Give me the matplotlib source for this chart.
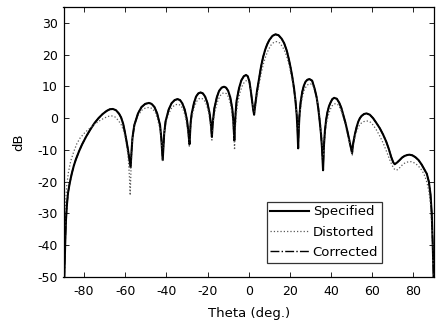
import matplotlib
matplotlib.use("Agg")
import matplotlib.pyplot as plt

# values (theta in deg, level in dB)
spec_theta = [
    -90.0, -89.6, -89.2, -88.8, -88.3, -87.8, -87.0, -86.0, -85.0, -84.0,
    -82.5, -81.0, -79.0, -77.0, -75.0, -73.0, -71.0, -69.0, -67.5, -66.0,
    -64.5, -63.0, -62.0, -61.0, -60.3, -59.5, -58.7, -58.0, -57.4,
    -56.95, -56.5, -55.6, -53.8, -52.1, -50.3, -48.5, -47.2, -45.8, -44.5,
    -43.1, -42.5, -42.15, -41.8,
    -41.45, -41.1, -40.4, -38.9, -37.5, -36.0, -34.6, -33.4, -32.3, -31.1,
    -30.0, -29.4, -28.8,
    -28.5, -28.2, -27.7, -26.6, -25.6, -24.5, -23.4, -22.3, -21.2, -20.1,
    -19.0, -18.45, -17.9,
    -17.6, -17.3, -16.7, -15.5, -14.4, -13.2, -12.0, -11.0, -10.0, -9.0,
    -8.0, -7.5, -7.0,
    -6.7, -6.4, -5.9, -4.7, -3.6, -2.4, -1.3, -0.5, 0.3, 1.0,
    1.6, 2.1, 2.6,
    3.2, 4.0, 5.0, 6.0, 7.0, 8.0, 9.0, 10.0, 11.5, 13.0,
    14.5, 16.0, 17.2, 18.5, 19.5, 20.4, 21.2, 22.0, 22.7, 23.3,
    23.7, 24.0,
    24.3, 24.6, 25.2, 26.0, 26.8, 27.6, 28.5, 29.5, 30.8, 32.0,
    33.0, 33.8, 34.5, 35.1, 35.6, 36.1,
    36.5, 37.0, 37.6, 38.2, 39.0, 39.8, 40.6, 41.5, 42.8, 44.0,
    45.0, 46.0, 47.0, 48.0, 48.8, 49.5, 50.2,
    50.6, 51.0, 51.6, 52.4, 53.2, 54.0, 54.8, 56.0, 57.2, 58.8,
    60.4, 62.0, 63.7, 65.3, 66.8, 68.0, 69.2, 70.2, 70.9,
    72.0, 73.3, 74.5, 75.7, 77.0, 78.1, 79.5, 81.0, 82.5, 84.0,
    85.2, 86.5, 87.5, 88.3, 88.9, 89.4, 89.8, 90.0,
]
spec_db = [
    -60.0, -50.0, -40.0, -32.0, -27.0, -23.5, -20.5, -17.5, -15.0, -13.0,
    -10.5, -8.3, -5.8, -3.6, -1.6, 0.0, 1.3, 2.3, 2.8, 2.9,
    2.5, 1.4, 0.2, -1.8, -4.0, -6.8, -9.8, -12.8, -15.5,
    -10.5, -6.2, -2.2, 1.5, 3.5, 4.5, 4.8, 4.5, 3.5, 1.5,
    -2.2, -6.2, -9.5, -13.2,
    -9.0, -5.0, -1.0, 2.7, 4.7, 5.7, 6.0, 5.7, 4.7, 2.7,
    -0.6, -4.0, -8.2,
    -4.5, -1.2, 1.5, 4.8, 6.8, 7.8, 8.1, 7.8, 6.8, 4.8,
    1.5, -1.5, -5.9,
    -2.5, -0.3, 3.1, 6.6, 8.6, 9.6, 9.9, 9.6, 8.6, 6.6,
    3.0, -0.8, -7.0,
    -2.0, 1.5, 5.5, 9.5, 11.9, 13.2, 13.6, 13.2, 11.6, 8.6,
    5.6, 3.0, 1.1,
    4.5, 8.5, 12.5, 16.3, 19.3, 21.6, 23.3, 24.6, 25.9, 26.4,
    26.1, 25.0, 23.6, 21.2, 18.5, 15.7, 12.8, 9.4, 5.5, 1.0,
    -4.0, -9.5,
    -3.5, 0.5, 5.0, 8.3, 10.3, 11.5, 12.1, 12.3, 11.8, 9.3,
    6.5, 3.0, -1.1, -5.0, -9.5, -16.4,
    -9.0, -4.0, -0.5, 1.8, 3.8, 5.0, 6.0, 6.4, 6.1, 4.8,
    3.2, 0.8, -1.5, -4.3, -6.8, -8.9, -11.0,
    -8.5, -7.0, -5.0, -2.8, -1.1, 0.0, 0.7, 1.3, 1.5, 1.1,
    0.0, -1.5, -3.2, -5.2, -7.4, -9.6, -12.2, -13.9, -14.5,
    -14.0, -13.2, -12.4, -11.9, -11.6, -11.5, -11.7, -12.3, -13.2, -14.6,
    -16.0, -17.5, -20.0, -24.0, -30.0, -40.0, -50.0, -60.0,
]

dist_theta = [
    -90.0, -89.7, -89.4, -89.0, -88.4, -87.6, -86.5, -85.0, -83.5, -82.0,
    -80.0, -78.0, -76.0, -74.0, -72.0, -70.0, -68.0, -66.5, -65.0, -63.5,
    -62.0, -61.0, -60.0, -59.2, -58.5, -58.0, -57.6,
    -57.2, -56.8, -56.2, -55.2, -53.6, -52.0, -50.2, -48.3, -46.8, -45.4,
    -44.2, -43.0, -42.4, -41.9,
    -41.5, -41.0, -40.2, -38.8, -37.3, -35.8, -34.4, -33.2, -32.0, -30.9,
    -29.9, -29.3, -28.9,
    -28.5, -28.1, -27.5, -26.4, -25.3, -24.2, -23.2, -22.1, -21.0, -19.9,
    -18.9, -18.4, -17.9,
    -17.5, -17.1, -16.5, -15.3, -14.1, -12.9, -11.8, -10.8, -9.8, -8.9,
    -8.0, -7.5, -7.1, -6.9,
    -6.6, -6.2, -5.6, -4.5, -3.3, -2.1, -1.0, -0.2, 0.6, 1.3,
    1.9, 2.3, 2.7,
    3.3, 4.1, 5.1, 6.1, 7.2, 8.3, 9.5, 10.8, 12.2, 13.6,
    15.0, 16.4, 17.7, 18.9, 19.9, 20.8, 21.7, 22.5, 23.2, 23.8,
    24.3,
    24.7, 25.3, 26.1, 27.0, 28.0, 29.0, 30.0, 31.2, 32.3, 33.3,
    34.1, 34.8, 35.4, 35.9, 36.2,
    36.6, 37.1, 37.8, 38.6, 39.5, 40.4, 41.3, 42.3, 43.4, 44.5,
    45.6, 46.7, 47.7, 48.6, 49.5, 50.3,
    50.7, 51.2, 51.9, 52.7, 53.6, 54.6, 55.8, 57.0, 58.0, 59.2,
    60.6, 62.2, 63.8, 65.4, 66.9, 68.3, 69.6, 70.7, 71.7,
    72.8, 74.0, 75.3, 76.6, 77.8, 78.9, 80.2, 81.6, 83.0, 84.3,
    85.5, 86.6, 87.5, 88.3, 88.9, 89.4, 89.8, 90.0,
]
dist_db = [
    -60.0, -45.0, -35.0, -27.0, -21.0, -17.0, -13.5, -10.5, -8.0, -6.3,
    -4.8, -3.6, -2.5, -1.5, -0.6, 0.1, 0.6, 0.7, 0.4, -0.6,
    -2.0, -3.6, -6.0, -9.0, -13.0, -18.0, -24.3,
    -16.0, -9.5, -5.0, -1.6, 1.0, 2.5, 3.2, 3.4, 3.0, 1.8,
    -0.5, -3.8, -7.5, -13.5,
    -8.0, -4.5, -1.2, 1.6, 3.4, 4.2, 4.4, 4.1, 3.0, 0.8,
    -2.8, -5.8, -8.8,
    -4.5, -1.5, 0.8, 3.6, 5.3, 6.1, 6.3, 6.0, 5.0, 3.0,
    -0.5, -3.0, -6.9,
    -3.0, -0.5, 2.0, 5.0, 6.9, 7.8, 8.0, 7.7, 6.6, 4.5,
    1.0, -3.0, -7.0, -10.0,
    -4.0, 0.0, 3.8, 7.6, 10.0, 11.4, 11.9, 11.6, 10.2, 7.6,
    4.8, 2.8, 1.5,
    3.8, 7.3, 11.0, 14.3, 17.3, 19.6, 21.5, 23.0, 23.9, 24.1,
    23.7, 22.5, 20.8, 18.5, 15.8, 13.0, 9.8, 6.2, 2.5, -1.0,
    -3.5,
    0.5, 3.8, 6.8, 8.9, 10.1, 10.7, 10.8, 10.3, 8.3, 5.5,
    2.3, -1.5, -5.5, -9.5, -13.0,
    -8.0, -4.5, -1.5, 0.8, 2.6, 3.8, 4.4, 4.6, 4.2, 3.0,
    1.0, -1.5, -4.3, -7.0, -9.5, -11.6,
    -9.0, -7.2, -5.2, -3.6, -2.4, -1.6, -1.1, -0.9, -0.9, -1.3,
    -2.3, -3.9, -5.8, -8.0, -10.4, -12.8, -14.8, -16.0, -16.4,
    -16.0, -15.1, -14.3, -13.9, -13.7, -13.7, -14.0, -14.6, -15.5, -16.6,
    -18.2, -20.3, -23.0, -27.0, -33.0, -42.0, -52.0, -60.0,
]

# corrected pattern sits on top of the specified one
corr_theta = spec_theta
corr_db = spec_db

labels = ["Specified", "Distorted", "Corrected"]
xticks = [-80, -60, -40, -20, 0, 20, 40, 60, 80]
yticks = [-50, -40, -30, -20, -10, 0, 10, 20, 30]

plt.rcParams["font.family"] = ["DejaVu Sans"]
plt.rcParams["axes.unicode_minus"] = False

fig = plt.figure(figsize=(4.36, 3.24), dpi=100)
ax = fig.add_axes([63.5 / 436, 1 - 277 / 324, (434 - 63.5) / 436, (277 - 7) / 324])

ax.plot(spec_theta, spec_db, color="black", lw=1.5, ls="-", label=labels[0])
ax.plot(dist_theta, dist_db, color="0.35", lw=0.9, ls=":", label=labels[1])
ax.plot(corr_theta, corr_db, color="black", lw=1.0, ls="-.", label=labels[2])

ax.set_xlim(-90, 90)
ax.set_ylim(-50, 35)
ax.set_xticks(xticks)
ax.set_yticks(yticks)
ax.tick_params(direction="in", top=True, right=True, length=3.5, width=0.6,
               labelsize=9, pad=4)
ax.tick_params(axis="x", pad=6)
for s in ax.spines.values():
    s.set_linewidth(0.9)

ax.set_xlabel("Theta (deg.)", fontsize=9.5, labelpad=6)
ax.set_ylabel("dB", fontsize=9.5, labelpad=9)

leg = ax.legend(loc="lower left", bbox_to_anchor=(0.548, 0.052), fontsize=9.5,
                frameon=True, fancybox=False, edgecolor="black",
                handlelength=2.9, handletextpad=0.3, labelspacing=0.55,
                borderpad=0.3, borderaxespad=0.0)
leg.get_frame().set_linewidth(0.9)

fig.savefig("out.png", dpi=100)
